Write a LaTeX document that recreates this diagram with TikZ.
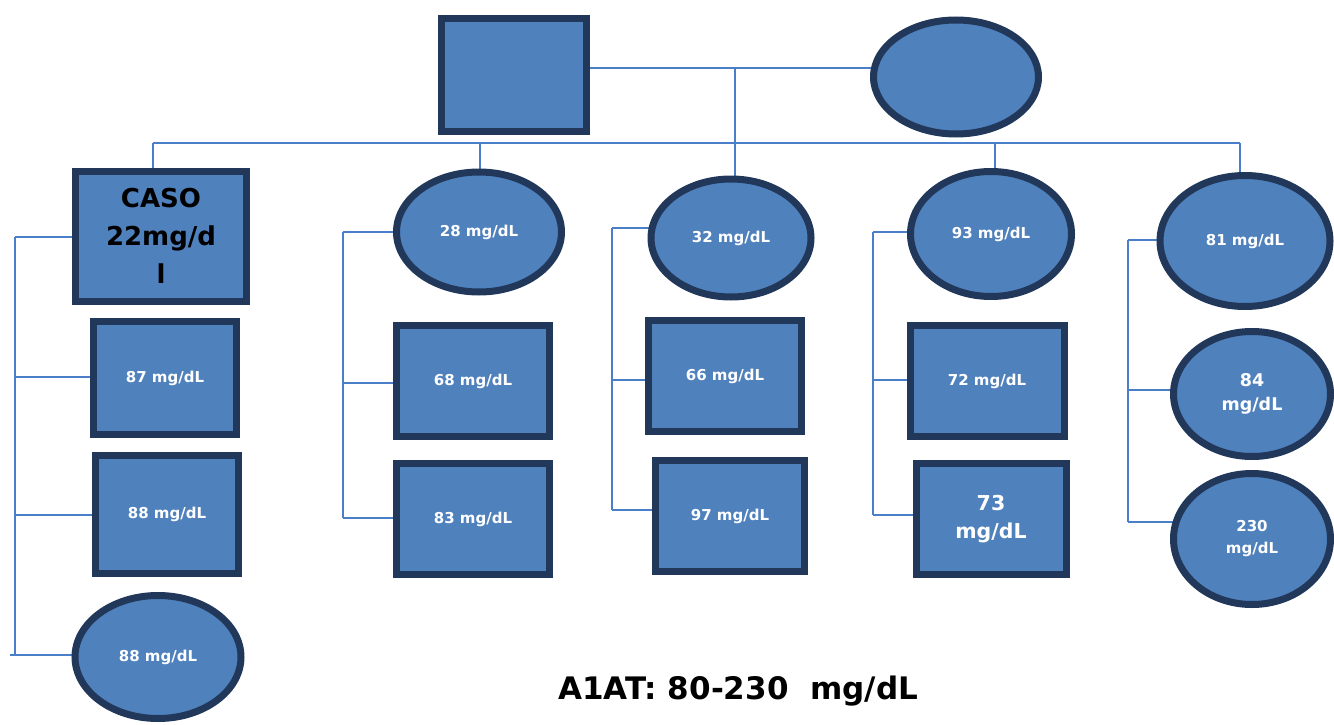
\documentclass[tikz,border=0pt]{standalone}
\usepackage{fontspec}
\setmainfont{DejaVu Sans}
\usetikzlibrary{shapes.geometric,backgrounds}
\definecolor{bl}{RGB}{79,129,189}
\definecolor{dk}{RGB}{33,56,90}
\definecolor{ln}{RGB}{74,126,200}
\tikzset{
  box/.style={rectangle, draw=dk, fill=bl, line width=7pt, inner sep=0pt, align=center, text=white, font=\bfseries\fontsize{15}{18}\selectfont},
  oval/.style={ellipse, draw=dk, fill=bl, line width=7pt, inner sep=0pt, align=center, text=white, font=\bfseries\fontsize{15}{18}\selectfont},
  conn/.style={draw=ln, line width=2.5pt},
}
\begin{document}
\begin{tikzpicture}[x=1pt,y=-1pt]
\useasboundingbox (0,0) rectangle (1334,725);
% generation I
\node[box, minimum width=145, minimum height=113] (father) at (514,75) {};
\node[oval, minimum width=165, minimum height=114] (mother) at (956,77) {};
% generation II
\node[box, minimum width=171, minimum height=130, text=black, font=\bfseries\fontsize{26}{38}\selectfont] (caso) at (161,236) {CASO\\22mg/d\\l};
\node[oval, minimum width=165, minimum height=120] (e28) at (479,232) {28 mg/dL};
\node[oval, minimum width=160, minimum height=118] (e32) at (731,238) {32 mg/dL};
\node[oval, minimum width=161, minimum height=125] (e93) at (991,234) {93 mg/dL};
\node[oval, minimum width=170, minimum height=131] (e81) at (1245,241) {81 mg/dL};
% generation III
\node[box, minimum width=143, minimum height=113] (r87) at (165,378) {87 mg/dL};
\node[box, minimum width=143, minimum height=118] (r88) at (167,514) {88 mg/dL};
\node[oval, minimum width=166, minimum height=123] (o88) at (158,657) {88 mg/dL};
\node[box, minimum width=153, minimum height=111] (r68) at (473,381) {68 mg/dL};
\node[box, minimum width=153, minimum height=111] (r83) at (473,519) {83 mg/dL};
\node[box, minimum width=153, minimum height=111] (r66) at (725,376) {66 mg/dL};
\node[box, minimum width=149, minimum height=111] (r97) at (730,516) {97 mg/dL};
\node[box, minimum width=154, minimum height=111] (r72) at (987,381) {72 mg/dL};
\node[box, minimum width=150, minimum height=111, font=\bfseries\fontsize{20.5}{28}\selectfont] (r73) at (991,519) {73\\mg/dL};
\node[oval, minimum width=157, minimum height=125, font=\bfseries\fontsize{17.5}{24}\selectfont] (o84) at (1252,394) {84\\mg/dL};
\node[oval, minimum width=157, minimum height=131, font=\bfseries\fontsize{15}{22}\selectfont] (o230) at (1252,539) {230\\mg/dL};
% caption
\node[font=\bfseries\fontsize{31}{34}\selectfont] (cap) at (738,691) {A1AT: 80-230\ \ mg/dL};
% connectors
\coordinate (m) at (735,68);
\coordinate (s) at (735,143);
\coordinate (sL) at (153,143);
\coordinate (sR) at (1240,143);
\coordinate (d2) at (480,143);
\coordinate (d4) at (995,143);
\coordinate (k1) at (15,237);
\coordinate (k1b) at (15,377);
\coordinate (k1c) at (15,515);
\coordinate (k1d) at (15,655);
\coordinate (k2) at (343,232);
\coordinate (k2b) at (343,383);
\coordinate (k2c) at (343,518);
\coordinate (k3) at (612,228);
\coordinate (k3b) at (612,380);
\coordinate (k3c) at (612,510);
\coordinate (k4) at (873,232);
\coordinate (k4b) at (873,380);
\coordinate (k4c) at (873,515);
\coordinate (k5) at (1128,240);
\coordinate (k5b) at (1128,390);
\coordinate (k5c) at (1128,522);
\begin{scope}[on background layer]
\draw[conn] (m -| father.center) -- (m -| mother.center);
\draw[conn] (m) -- (s);
\draw[conn] (sL) -- (sR);
\draw[conn] (sL) -- (sL |- caso.center);
\draw[conn] (d2) -- (d2 |- e28.center);
\draw[conn] (s) -- (s |- e32.center);
\draw[conn] (d4) -- (d4 |- e93.center);
\draw[conn] (sR) -- (sR |- e81.center);
% column 1
\draw[conn] (k1) -- (k1d);
\draw[conn] (k1) -- (k1 -| caso.center);
\draw[conn] (k1b) -- (k1b -| r87.center);
\draw[conn] (k1c) -- (k1c -| r88.center);
\draw[conn] ([xshift=-5pt]k1d) -- (k1d -| o88.center);
% column 2
\draw[conn] (k2) -- (k2c);
\draw[conn] (k2) -- (k2 -| e28.center);
\draw[conn] (k2b) -- (k2b -| r68.center);
\draw[conn] (k2c) -- (k2c -| r83.center);
% column 3
\draw[conn] (k3) -- (k3c);
\draw[conn] (k3) -- (k3 -| e32.center);
\draw[conn] (k3b) -- (k3b -| r66.center);
\draw[conn] (k3c) -- (k3c -| r97.center);
% column 4
\draw[conn] (k4) -- (k4c);
\draw[conn] (k4) -- (k4 -| e93.center);
\draw[conn] (k4b) -- (k4b -| r72.center);
\draw[conn] (k4c) -- (k4c -| r73.center);
% column 5
\draw[conn] (k5) -- (k5c);
\draw[conn] (k5) -- (k5 -| e81.center);
\draw[conn] (k5b) -- (k5b -| o84.center);
\draw[conn] (k5c) -- (k5c -| o230.center);
\end{scope}
\end{tikzpicture}
\end{document}
